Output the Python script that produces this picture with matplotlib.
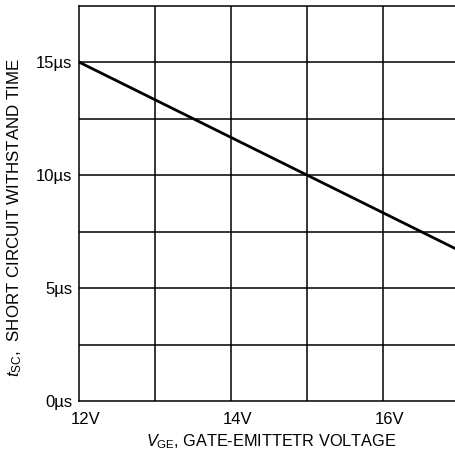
import numpy as np
import matplotlib
matplotlib.use("Agg")
import matplotlib.pyplot as plt
from matplotlib.transforms import ScaledTranslation

plt.rcParams['font.family'] = ['Liberation Sans', 'DejaVu Sans']
plt.rcParams['mathtext.fontset'] = 'custom'
plt.rcParams['mathtext.rm'] = 'Liberation Sans'
plt.rcParams['mathtext.it'] = 'Liberation Sans:italic'

# data
vge = [12, 15, 17]           # V
tsc = [15, 10, 6.667]        # us

xticks = [12, 14, 16]
xlabels = ["12V", "14V", "16V"]
yticks = [0, 5, 10, 15]
ylabels = ["0µs", "5µs", "10µs", "15µs"]

fig = plt.figure(figsize=(4.55, 4.54), dpi=100)
ax = fig.add_axes([0.1736, 0.1167, 0.835, 0.871])

ax.set_xlim(12, 17)
ax.set_ylim(0, 17.5)

# grid
for x in np.arange(13, 17, 1):
    ax.axvline(x, color="black", lw=1.1, zorder=1)
for y in np.arange(2.5, 17.5, 2.5):
    ax.axhline(y, color="black", lw=1.1, zorder=1)

ax.plot(vge, tsc, color="black", lw=2.0, zorder=3)

for s in ax.spines.values():
    s.set_linewidth(1.1)

ax.set_xticks(xticks)
ax.set_xticklabels(xlabels, fontsize=12)
ax.set_yticks(yticks)
ax.set_yticklabels(ylabels, fontsize=12)
ax.tick_params(length=0)
ax.tick_params(axis="x", pad=8)
ax.tick_params(axis="y", pad=5)

off = ScaledTranslation(7 / 100, 0, fig.dpi_scale_trans)
for lab in ax.get_xticklabels():
    lab.set_transform(lab.get_transform() + off)

ax.set_xlabel(r"$V_{\mathrm{GE}}$, GATE-EMITTETR VOLTAGE", fontsize=11.7)
ax.set_ylabel(r"$t_{\mathrm{SC}}$,  SHORT CIRCUIT WITHSTAND TIME", fontsize=12.2)
ax.xaxis.set_label_coords(0.507, -0.08)
ax.yaxis.set_label_coords(-0.145, 0.463)

fig.savefig("out.png", dpi=100)
